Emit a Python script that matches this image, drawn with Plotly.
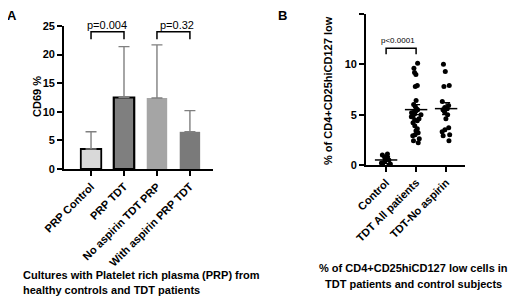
import plotly.graph_objects as go

# ---------------- Data ----------------
# Panel A: bar chart
a_categories = ["PRP Control", "PRP TDT", "No aspirin TDT PRP", "With aspirin PRP TDT"]
a_means = [3.5, 12.5, 12.4, 6.5]
a_err_upper = [3.0, 8.9, 9.3, 3.7]
a_colors = ["#d9d9d9", "#7f7f7f", "#a5a5a5", "#7a7a7a"]
a_line_widths = [1.8, 2.2, 0, 0]
a_yticks = [0, 5, 10, 15, 20, 25]

# Panel B: scatter dot plot
b_categories = ["Control", "TDT All patients", "TDT-No aspirin"]
b_control = [1.1, 1.0, 0.8, 0.7, 0.6, 0.5, 0.4, 0.2, 0.1, 0.1, 0.0]
b_tdt_all = [10.1, 9.6, 9.2, 9.0, 7.9, 7.8, 6.4, 6.0, 5.8, 5.6, 5.5, 5.4, 5.3, 5.2,
             5.1, 5.0, 4.9, 4.8, 4.6, 4.5, 4.4, 4.2, 3.9, 3.6, 3.4, 3.2, 3.0, 2.9,
             2.6, 2.4, 2.2]
b_tdt_noasp = [10.0, 9.3, 7.9, 7.8, 6.3, 5.9, 5.7, 5.6, 5.5, 5.3, 5.0, 4.6, 3.7,
               3.5, 3.3, 3.0, 2.9, 2.4]
b_center = [0.5, 5.5, 5.6]
b_spread = [0.35, 0.5, 0.6]
b_yticks = [0, 5, 10, 15]

FONT = "Liberation Sans, Arial, sans-serif"
W, H, OFF = 512, 289, 8  # page body margin offsets the figure by 8px


def px(x):
    return (x - OFF) / W


def py(y):
    return 1 - (y - OFF) / H


def b(t):
    return "<b>" + str(t) + "</b>"


fig = go.Figure()

# ---- Panel A bars ----
fig.add_trace(go.Bar(
    x=a_categories, y=a_means, width=0.62,
    marker=dict(color=a_colors, line=dict(color="black", width=a_line_widths)),
    error_y=dict(type="data", symmetric=False, array=a_err_upper,
                 arrayminus=[0] * len(a_means), color="#808080", thickness=1.4, width=5.5),
    xaxis="x", yaxis="y", showlegend=False,
))

# brackets panel A
for i, j in [(0, 1), (2, 3)]:
    fig.add_trace(go.Scatter(
        x=[a_categories[i], a_categories[i], a_categories[j], a_categories[j]],
        y=[22.7, 24.0, 24.0, 22.7], mode="lines", line=dict(color="black", width=1.5),
        xaxis="x", yaxis="y", showlegend=False, hoverinfo="skip"))

# ---- Panel B points ----
for cat, vals in zip(b_categories, [b_control, b_tdt_all, b_tdt_noasp]):
    fig.add_trace(go.Box(
        x=[cat] * len(vals), y=vals, boxpoints="all", jitter=0.75, pointpos=0,
        fillcolor="rgba(0,0,0,0)", line=dict(color="rgba(0,0,0,0)", width=0),
        marker=dict(color="black", size=5), xaxis="x2", yaxis="y2",
        showlegend=False, hoverinfo="y"))

# mean lines with SD whiskers
fig.add_trace(go.Scatter(
    x=b_categories, y=b_center, mode="markers",
    marker=dict(symbol="line-ew", size=16, line=dict(color="black", width=1.5)),
    error_y=dict(type="data", array=b_spread, color="black", thickness=1.2, width=4),
    xaxis="x2", yaxis="y2", showlegend=False, hoverinfo="skip"))

# bracket panel B
fig.add_trace(go.Scatter(
    x=[b_categories[0], b_categories[0], b_categories[1], b_categories[1]],
    y=[11.0, 11.6, 11.6, 11.0], mode="lines", line=dict(color="black", width=1.5),
    xaxis="x2", yaxis="y2", showlegend=False, hoverinfo="skip"))

axis_common = dict(showline=True, linecolor="black", linewidth=1.8, ticks="outside",
                   ticklen=5, tickwidth=1.8, tickcolor="black", showgrid=False,
                   zeroline=False, automargin=False,
                   tickfont=dict(family=FONT, size=11, color="black"))

fig.update_layout(
    width=W, height=H, margin=dict(l=0, r=0, t=0, b=0),
    paper_bgcolor="white", plot_bgcolor="white",
    xaxis=dict(domain=[px(64), px(213)], range=[-0.82, 3.7], type="category",
               tickvals=a_categories, ticktext=[b(c) for c in a_categories],
               tickangle=-45, anchor="y", **axis_common),
    yaxis=dict(domain=[py(169), py(26)], range=[0, 25], tickvals=a_yticks,
               ticktext=[b(v) for v in a_yticks], anchor="x", **axis_common),
    xaxis2=dict(domain=[px(366), px(465)], range=[-0.67, 2.63], type="category",
                tickvals=b_categories, ticktext=[b(c) for c in b_categories],
                tickangle=-45, anchor="y2", **axis_common),
    yaxis2=dict(domain=[py(165), py(14)], range=[0, 15], tickvals=b_yticks,
                ticktext=[b(v) for v in b_yticks], anchor="x2", **axis_common),
)

ann = [
    dict(text=b("A"), x=12, y=16, size=13),
    dict(text=b("B"), x=282, y=16, size=13),
    dict(text="p=0.004", x=107, y=25, size=11),
    dict(text="p=0.32", x=177, y=25, size=11),
    dict(text="p<0.0001", x=398, y=41, size=8),
    dict(text=b("CD69 %"), x=37, y=97, size=11, angle=-90),
    dict(text=b("% of CD4+CD25hiCD127 low"), x=328, y=91, size=11, angle=-90),
    dict(text=b("Cultures with Platelet rich plasma (PRP) from"), x=141, y=275, size=11),
    dict(text=b("healthy controls and TDT patients"), x=111, y=290, size=11),
    dict(text=b("% of CD4+CD25hiCD127 low cells in"), x=413, y=268, size=11),
    dict(text=b("TDT patients and control subjects"), x=413, y=284, size=11),
]
for a in ann:
    fig.add_annotation(text=a["text"], xref="paper", yref="paper",
                       x=px(a["x"]), y=py(a["y"]), xanchor="center",
                       yanchor="middle", showarrow=False, textangle=a.get("angle", 0),
                       font=dict(family=FONT, color="black", size=a["size"]))

fig.write_html("out.html")
